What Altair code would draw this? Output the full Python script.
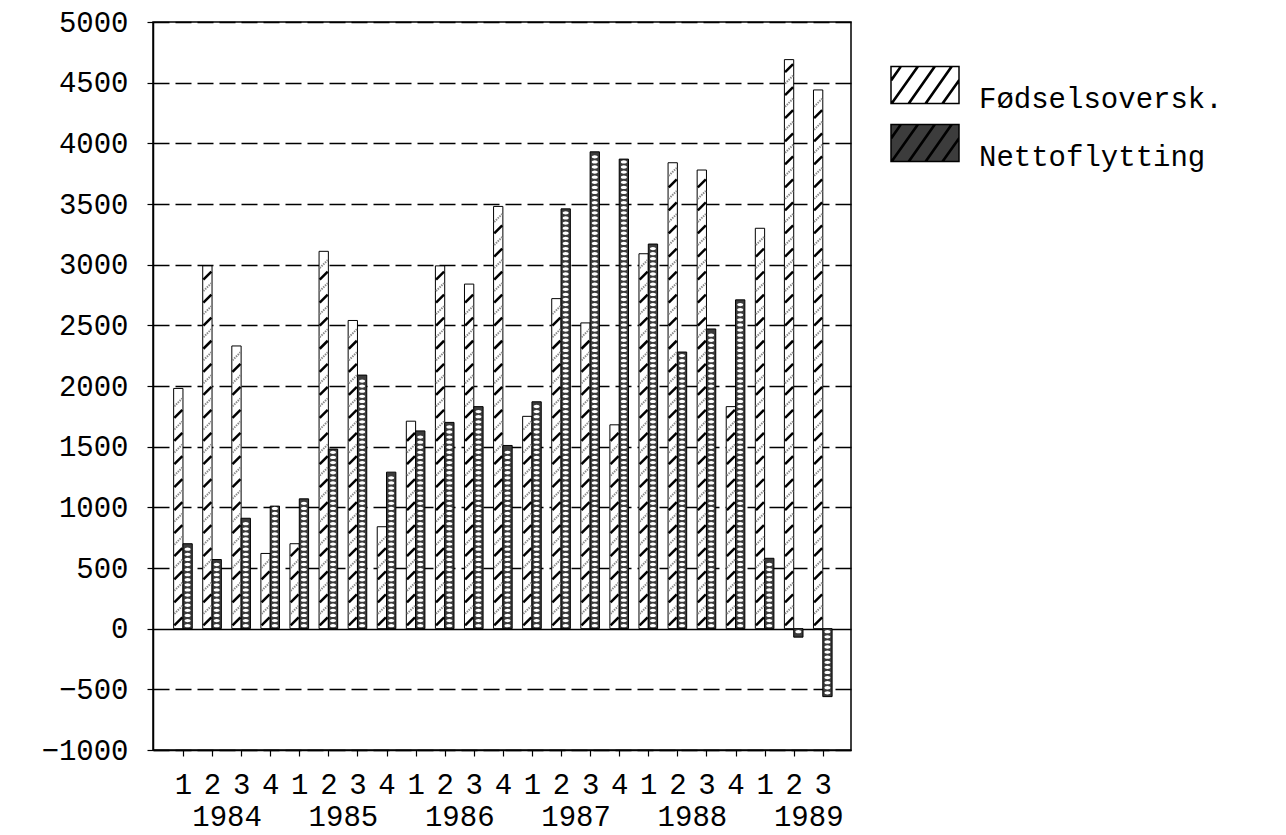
import json
import altair as alt
import pandas as pd

# ---- data ----
quarter_idx = list(range(23))
quarter_labels = ["1", "2", "3", "4"] * 5 + ["1", "2", "3"]
years = ["1984", "1985", "1986", "1987", "1988", "1989"]
series_names = ["Fødselsoversk.", "Nettoflytting"]
fodsel = [1980, 2990, 2330, 620, 700, 3110, 2540, 840, 1710, 2990, 2840, 3480,
          1750, 2720, 2520, 1680, 3090, 3840, 3780, 1830, 3300, 4690, 4440]
netto = [700, 570, 910, 1010, 1070, 1480, 2090, 1290, 1630, 1700, 1830, 1510,
         1870, 3460, 3930, 3870, 3170, 2280, 2470, 2710, 580, -70, -560]
y_ticks = list(range(-1000, 5001, 500))
year_pos = [4 * k + 1.5 for k in range(len(years))]

rows = []
for i in quarter_idx:
    rows.append({"idx": i, "series": series_names[0], "value": fodsel[i]})
    rows.append({"idx": i, "series": series_names[1], "value": netto[i]})
df = pd.DataFrame(rows)

# texture rows derived from the values (hatching inside the bars)
hatch = []
for i, v in enumerate(fodsel):
    h, k = 60, 0
    while h <= v - 50:
        hatch.append({"idx": i, "h": h, "kind": "dark" if k % 2 == 0 else "light"})
        h += 95
        k += 1
hatch_df = pd.DataFrame(hatch)

ell = []
for i, v in enumerate(netto):
    sgn = 1 if v >= 0 else -1
    h = 25
    while h <= abs(v) - 18:
        ell.append({"idx": i, "h": sgn * h})
        h += 42
ell_df = pd.DataFrame(ell)

FONT = "Liberation Mono"
FS = 29
xscale = alt.Scale(domain=[-1.03, 22.97], nice=False, zero=False)
yscale = alt.Scale(domain=[-1000, 5000], nice=False, zero=False)

y_axis = alt.Axis(values=y_ticks, format="d", grid=True, gridColor="black", gridWidth=1.5,
                  gridDash={"condition": {"test": "datum.value === 0", "value": [1, 0]},
                            "value": [16, 6]},
                  tickSize=6, tickColor="black", tickWidth=1.2, domainColor="black",
                  domainWidth=1.5, labelPadding=19, labelFont=FONT,
                  labelFontSize=FS, labelColor="black", title=None)

legend_path = (
    "M-1.3077,-0.7115 L1.3077,-0.7115 L1.3077,0.7115 L-1.3077,0.7115 Z "
    "M-1.3077,-0.213 L-0.95,-0.7115 M-1.28,-0.17 L-0.92,-0.69 "
    "M-1.3077,0.7115 L-0.3,-0.7115 M-1.26,0.7115 L-0.25,-0.7115 "
    "M-0.65,0.7115 L0.35,-0.7115 M-0.60,0.7115 L0.40,-0.7115 "
    "M0.0,0.7115 L1.0,-0.7115 M0.05,0.7115 L1.05,-0.7115 "
    "M0.65,0.7115 L1.3077,-0.21 M0.70,0.7115 L1.3077,-0.14"
)

quarter_expr = json.dumps(quarter_labels) + "[datum.value]"
year_expr = json.dumps(years) + "[floor(datum.value/4)]"

bars = alt.Chart(df).transform_calculate(
    x0="datum.series == 'Fødselsoversk.' ? datum.idx - 0.32 : datum.idx",
    x1="datum.series == 'Fødselsoversk.' ? datum.idx : datum.idx + 0.32",
).mark_bar(stroke="black", strokeWidth=1).encode(
    x=alt.X("x0:Q", scale=xscale, title=None,
            axis=alt.Axis(orient="bottom", values=quarter_idx, labelExpr=quarter_expr,
                          grid=False, tickSize=6, tickColor="black", tickWidth=1.2,
                          domainColor="black", domainWidth=1.5, labelPadding=14,
                          labelFont=FONT, labelFontSize=FS, labelColor="black",
                          labelAngle=0)),
    x2="x1:Q",
    y=alt.Y("value:Q", scale=yscale, axis=y_axis),
    y2=alt.datum(0),
    color=alt.Color("series:N",
                    scale=alt.Scale(domain=series_names, range=["white", "#3c3c3c"]),
                    legend=alt.Legend(title=None, orient="none", legendX=745, legendY=36,
                                      symbolType=legend_path, symbolSize=2704,
                                      symbolStrokeColor="black", symbolStrokeWidth=1.5,
                                      labelFont=FONT, labelFontSize=FS, labelColor="black",
                                      labelOffset=27, labelBaseline="top", rowPadding=2,
                                      labelLimit=0, padding=0)),
)

hatch_dark = alt.Chart(hatch_df).transform_filter("datum.kind == 'dark'").transform_calculate(
    xc="datum.idx - 0.16"
).mark_point(shape="M -1 1 L 1 -1", filled=False, stroke="black", strokeWidth=2.5,
             size=64, opacity=1).encode(
    x=alt.X("xc:Q", scale=xscale, title=None,
            axis=alt.Axis(orient="bottom", values=year_pos, labelExpr=year_expr,
                          grid=False, ticks=False, domain=False, labelPadding=52,
                          labelFont=FONT, labelFontSize=FS, labelColor="black",
                          labelAngle=0)),
    y=alt.Y("h:Q", scale=yscale, axis=y_axis),
)

hatch_light = alt.Chart(hatch_df).transform_filter("datum.kind == 'light'").transform_calculate(
    xc="datum.idx - 0.16"
).mark_point(shape="M -1 1 L 1 -1", filled=False, stroke="#8a8a8a", strokeWidth=2,
             strokeDash=[1.5, 1], size=64, opacity=1).encode(
    x=alt.X("xc:Q", scale=xscale, axis=None),
    y=alt.Y("h:Q", scale=yscale, axis=y_axis),
)

ellipses = alt.Chart(ell_df).transform_calculate(
    xc="datum.idx + 0.16"
).mark_point(shape="M -1 0 A 1 0.55 0 1 0 1 0 A 1 0.55 0 1 0 -1 0 Z", filled=True,
             fill="white", size=36, opacity=1).encode(
    x=alt.X("xc:Q", scale=xscale, axis=None),
    y=alt.Y("h:Q", scale=yscale, axis=y_axis),
)

chart = alt.layer(bars, hatch_dark, hatch_light, ellipses).resolve_scale(
    x="independent"
).properties(
    width=698, height=728,
    padding={"left": 145, "top": 14, "right": 427, "bottom": 85},
    autosize=alt.AutoSizeParams(type="none"),
    background="white",
).configure_view(stroke="black", strokeWidth=1.5)

chart.save("out.html", embed_options={"renderer": "svg", "actions": False})
